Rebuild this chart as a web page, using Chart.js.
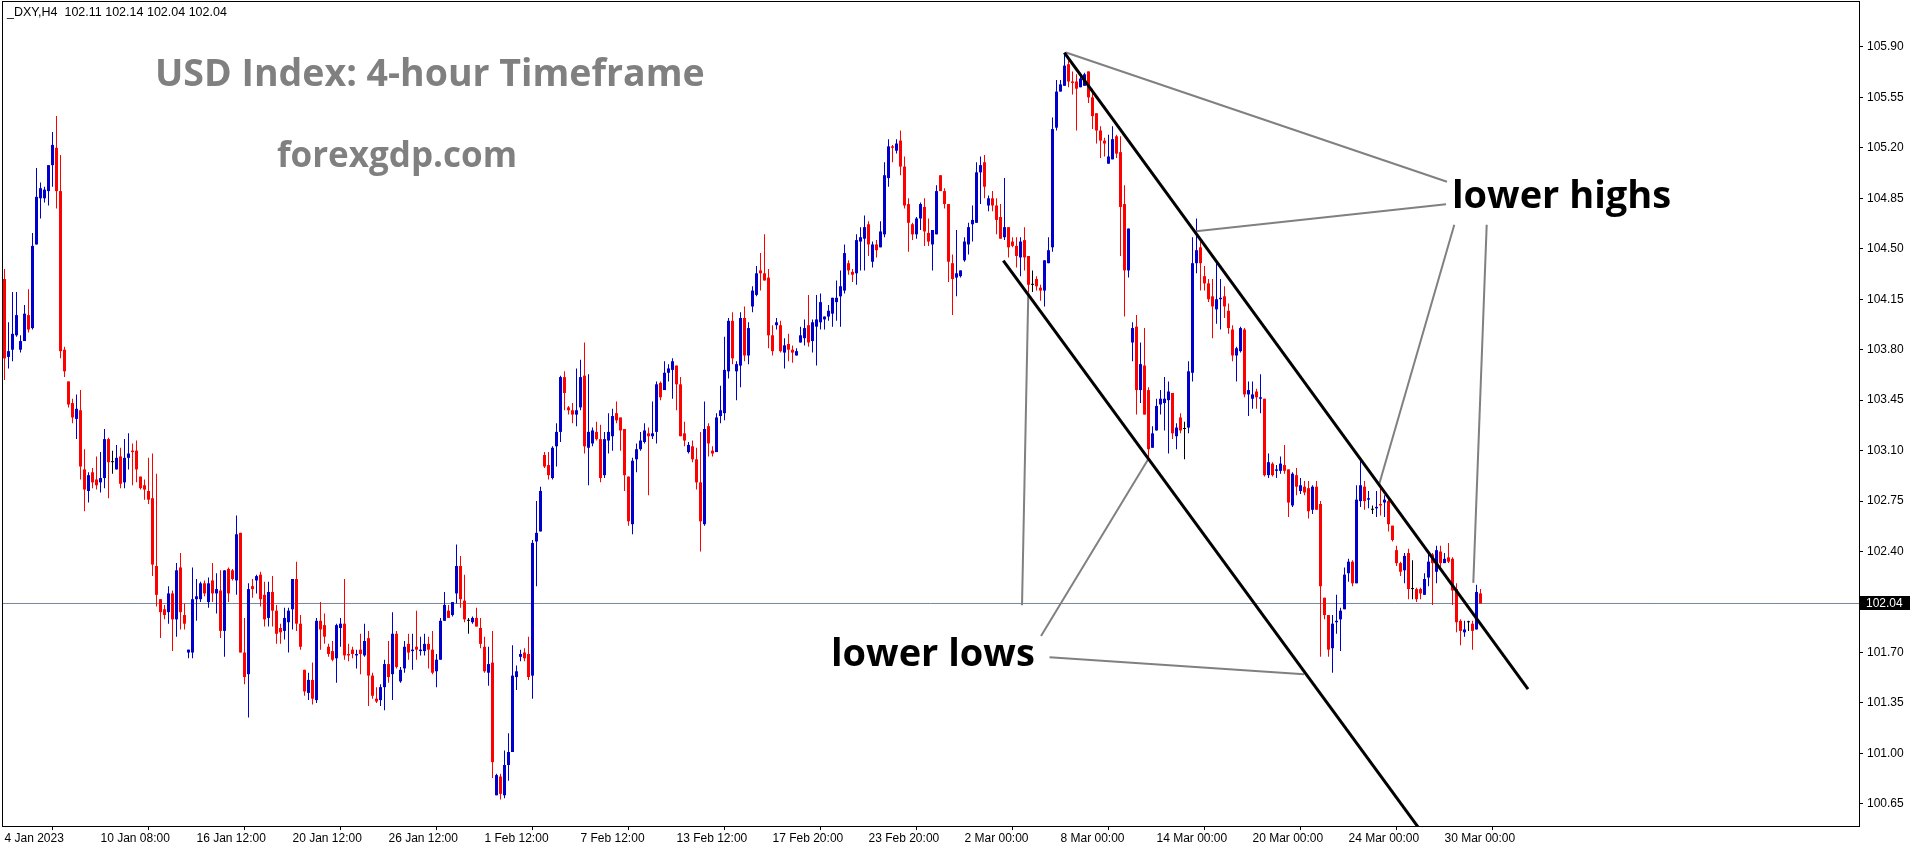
<!DOCTYPE html>
<html>
<head>
<meta charset="utf-8">
<script src="https://cdn.jsdelivr.net/npm/chart.js@4.4.1/dist/chart.umd.min.js"></script>
<style>
html,body{margin:0;padding:0;background:#fff;overflow:hidden;}
#wrap{position:relative;width:1916px;height:850px;}
#c{position:absolute;left:0;top:0;}
.ann{position:absolute;white-space:pre;line-height:1;font-family:'Open Sans',sans-serif;}
#hdr{position:absolute;left:7px;top:6px;font:12.5px 'Liberation Sans',sans-serif;line-height:1;white-space:pre;color:#000;}
</style>
</head>
<body>
<div id="wrap">
<canvas id="c" width="1916" height="850"></canvas>
<div id="hdr"></div>
<div class="ann" style="left:155px;top:53px;font-size:37.5px;color:#808080;font-weight:700">USD Index: 4-hour Timeframe</div>
<div class="ann" style="left:277px;top:136px;font-size:35px;color:#808080;font-weight:700">forexgdp.com</div>
<div class="ann" style="left:1452px;top:174px;font-size:38px;color:#000;font-weight:700">lower highs</div>
<div class="ann" style="left:831px;top:632px;font-size:38px;color:#000;font-weight:700">lower lows</div>
</div>
<script>
// ---- DATA ----
const symbolName = '_DXY,H4';
const xTickIndex = [0,24,48,72,96,120,144,168,192,216,240,264,288,312,336,360];
const xTickLabels = ['4 Jan 2023','10 Jan 08:00','16 Jan 12:00','20 Jan 12:00','26 Jan 12:00','1 Feb 12:00','7 Feb 12:00','13 Feb 12:00','17 Feb 20:00','23 Feb 20:00','2 Mar 00:00','8 Mar 00:00','14 Mar 00:00','20 Mar 00:00','24 Mar 00:00','30 Mar 00:00'];
const yTicks = [100.65,101.00,101.35,101.70,102.05,102.40,102.75,103.10,103.45,103.80,104.15,104.50,104.85,105.20,105.55,105.90];

const openP = [
104.29,103.75,103.80,103.90,103.80,103.86,104.04,103.95,104.53,104.85,
104.85,104.90,105.08,105.20,104.90,103.80,103.58,103.43,103.32,103.38,
102.97,102.82,102.95,102.90,102.88,102.91,103.18,103.02,102.97,103.06,
102.88,103.05,103.10,103.10,102.92,102.86,102.82,102.77,102.30,102.07,
102.00,101.98,102.11,101.93,102.29,101.96,101.70,101.70,102.07,102.07,
102.18,102.05,102.20,102.11,102.13,101.85,102.28,102.27,102.20,102.53,
101.70,101.55,102.16,102.20,102.24,102.10,101.94,102.12,101.99,101.87,
101.85,101.91,102.00,102.21,101.90,101.58,101.42,101.51,101.37,101.92,
101.89,101.74,101.71,101.66,101.87,101.90,101.69,101.72,101.68,101.72,
101.68,101.80,101.54,101.38,101.37,101.46,101.62,101.55,101.83,101.50,
101.59,101.76,101.71,101.74,101.71,101.71,101.76,101.72,101.57,101.65,
101.92,101.99,101.96,102.11,102.30,102.06,101.92,101.91,101.94,101.87,
101.74,101.56,101.63,100.71,100.84,100.71,100.92,101.01,101.53,101.67,
101.70,101.69,101.54,102.47,102.54,103.07,103.00,102.91,103.13,103.23,
103.61,103.40,103.38,103.35,103.40,103.62,103.12,103.15,103.23,103.18,
102.93,103.17,103.20,103.36,103.33,103.25,102.92,102.59,103.04,103.11,
103.16,103.22,103.20,103.23,103.57,103.52,103.64,103.66,103.69,103.56,
103.22,103.09,103.13,103.04,102.88,102.59,103.27,103.10,103.09,103.34,
103.36,103.65,104.00,103.65,103.69,104.02,103.76,104.10,104.18,104.35,
104.33,104.30,103.90,103.97,103.97,103.78,103.84,103.80,103.76,103.85,
103.88,103.97,103.86,103.96,103.99,104.01,104.03,104.05,104.13,104.17,
104.21,104.40,104.34,104.33,104.55,104.57,104.67,104.41,104.53,104.51,
104.60,104.99,105.21,105.18,105.25,105.07,104.81,104.67,104.60,104.71,
104.79,104.61,104.53,104.60,105.01,104.90,104.81,104.40,104.30,104.31,
104.42,104.53,104.67,104.68,105.03,105.10,104.80,104.85,104.80,104.72,
104.58,104.65,104.55,104.52,104.44,104.56,104.45,104.25,104.29,104.23,
104.21,104.40,104.51,105.34,105.59,105.63,105.78,105.66,105.66,105.62,
105.63,105.73,105.55,105.44,105.32,105.25,105.09,105.12,105.28,105.17,
104.81,104.35,103.85,103.96,103.52,103.69,103.52,103.12,103.24,103.42,
103.43,103.45,103.50,103.20,103.33,103.25,103.26,103.64,104.40,104.51,
104.31,104.26,104.17,104.08,104.15,104.17,104.07,103.94,103.76,103.79,
103.94,103.49,103.46,103.51,103.46,103.46,102.93,103.01,102.96,102.96,
103.00,102.97,102.72,102.93,102.82,102.85,102.84,102.69,102.85,102.73,
102.08,101.96,101.73,101.91,101.93,102.00,102.25,102.33,102.18,102.75,
102.85,102.76,102.69,102.70,102.73,102.74,102.75,102.58,102.41,102.32,
102.27,102.39,102.14,102.14,102.14,102.10,102.22,102.38,102.26,102.40,
102.32,102.36,102.35,102.14,101.92,101.84,101.91,101.90,101.86,102.11];

const highP = [
104.36,103.99,104.20,104.20,103.90,104.11,104.22,104.61,105.06,104.96,
104.93,105.08,105.31,105.42,105.15,103.82,103.58,103.46,103.49,103.52,
103.11,102.95,102.98,103.06,103.09,103.25,103.19,103.10,103.14,103.12,
103.18,103.22,103.15,103.17,102.92,102.90,103.05,103.08,102.94,102.07,
102.03,102.16,102.13,102.32,102.39,102.04,101.72,102.29,102.21,102.19,
102.20,102.22,102.32,102.25,102.27,102.27,102.29,102.28,102.65,102.53,
101.94,102.18,102.21,102.24,102.26,102.19,102.19,102.23,102.03,101.90,
102.01,102.01,102.21,102.33,101.96,101.58,101.56,101.63,101.94,102.05,
101.97,101.76,101.78,101.90,101.94,102.21,101.76,101.74,101.72,101.83,
101.90,101.85,101.56,101.46,101.48,101.65,101.78,101.98,101.85,101.60,
101.78,101.83,101.83,101.99,101.81,101.83,101.81,101.85,101.69,101.94,
102.12,102.03,102.05,102.45,102.37,102.24,101.94,101.95,102.01,101.94,
101.81,101.74,101.85,100.86,100.86,101.02,101.14,101.75,101.61,101.72,
101.73,101.81,102.48,102.75,102.85,103.09,103.09,103.13,103.29,103.62,
103.65,103.41,103.43,103.67,103.73,103.85,103.63,103.26,103.30,103.28,
103.23,103.36,103.39,103.44,103.33,103.25,102.92,103.05,103.15,103.23,
103.29,103.26,103.44,103.58,103.58,103.72,103.70,103.74,103.69,103.61,
103.30,103.16,103.17,103.12,103.23,103.44,103.29,103.13,103.36,103.55,
103.89,104.02,104.06,103.72,104.06,104.10,103.99,104.24,104.38,104.47,
104.60,104.36,103.97,104.02,104.00,103.88,103.91,103.83,103.81,103.96,
104.01,104.18,104.01,104.18,104.19,104.03,104.11,104.16,104.28,104.35,
104.53,104.42,104.36,104.60,104.65,104.73,104.69,104.55,104.56,104.69,
105.10,105.26,105.22,105.26,105.32,105.14,104.85,104.68,104.72,104.82,
104.85,104.71,104.63,104.94,105.01,104.92,104.81,104.46,104.63,104.35,
104.58,104.68,104.80,105.10,105.14,105.15,104.87,104.90,104.85,104.81,
104.99,104.65,104.58,104.58,104.58,104.65,104.45,104.35,104.31,104.25,
104.42,104.58,105.41,105.67,105.67,105.85,105.81,105.73,105.71,105.72,
105.72,105.73,105.61,105.44,105.35,105.27,105.29,105.35,105.29,105.28,
104.94,104.64,103.99,104.04,103.85,103.95,103.54,103.27,103.46,103.52,
103.61,103.58,103.50,103.29,103.36,103.30,103.72,104.58,104.71,104.55,
104.38,104.29,104.29,104.40,104.29,104.24,104.12,103.97,103.82,103.96,
103.95,103.58,103.58,103.53,103.63,103.46,103.08,103.02,103.00,103.06,
103.14,102.97,102.95,102.98,102.91,102.89,102.89,102.86,102.89,102.75,
102.08,101.96,101.96,102.10,102.01,102.29,102.35,102.34,102.86,103.04,
102.89,102.82,102.72,102.82,102.85,102.79,102.77,102.58,102.44,102.33,
102.39,102.42,102.34,102.15,102.15,102.25,102.39,102.39,102.44,102.44,
102.39,102.46,102.36,102.18,101.93,101.92,101.92,101.92,102.17,102.14];

const lowP = [
103.59,103.67,103.72,103.89,103.78,103.86,103.92,103.94,104.53,104.71,
104.82,104.80,104.93,104.78,103.74,103.61,103.40,103.29,103.18,102.90,
102.68,102.74,102.84,102.83,102.81,102.84,102.77,102.94,102.97,102.84,
102.84,102.97,102.86,102.88,102.83,102.76,102.73,102.23,102.02,101.80,
101.93,101.90,101.71,101.81,101.86,101.86,101.66,101.66,101.92,102.05,
102.09,102.01,102.05,101.97,101.80,101.67,102.05,102.20,102.10,101.70,
101.48,101.25,102.08,102.11,102.02,101.88,101.88,101.88,101.76,101.76,
101.79,101.70,101.86,101.85,101.72,101.40,101.37,101.34,101.35,101.72,
101.76,101.67,101.64,101.49,101.74,101.65,101.64,101.66,101.59,101.55,
101.67,101.33,101.38,101.35,101.33,101.30,101.49,101.37,101.59,101.49,
101.56,101.65,101.58,101.65,101.68,101.68,101.59,101.55,101.46,101.65,
101.92,101.94,101.95,102.04,102.01,101.91,101.83,101.90,101.88,101.73,
101.56,101.47,100.83,100.71,100.68,100.69,100.81,101.01,101.44,101.64,
101.64,101.51,101.38,102.16,102.54,102.98,102.90,102.90,102.99,103.16,
103.38,103.35,103.29,103.27,103.38,103.08,102.86,103.13,103.17,102.88,
102.91,103.08,103.10,103.29,103.10,102.82,102.58,102.52,102.95,103.10,
103.15,102.79,103.18,103.15,103.45,103.52,103.58,103.46,103.38,103.20,
103.13,103.08,103.02,102.83,102.40,102.58,103.06,103.06,103.09,103.29,
103.31,103.60,103.70,103.45,103.54,103.72,103.70,104.06,104.17,104.21,
104.28,103.81,103.76,103.94,103.78,103.67,103.72,103.71,103.76,103.85,
103.83,103.82,103.78,103.69,103.94,103.94,104.00,103.96,104.00,103.96,
104.19,104.32,104.27,104.25,104.35,104.35,104.45,104.37,104.44,104.51,
104.58,104.93,105.10,105.16,105.01,104.78,104.48,104.56,104.57,104.63,
104.52,104.52,104.35,104.60,104.90,104.78,104.27,104.04,104.17,104.30,
104.41,104.46,104.55,104.68,104.81,104.85,104.76,104.76,104.60,104.57,
104.56,104.44,104.51,104.37,104.31,104.35,104.20,104.20,104.21,104.14,
104.10,104.40,104.48,105.32,105.59,105.63,105.62,105.57,105.32,105.62,
105.63,105.51,105.33,105.23,105.13,105.14,105.09,105.12,105.13,104.45,
104.03,104.30,103.72,103.35,103.43,103.35,103.04,103.12,103.24,103.35,
103.24,103.08,103.18,103.11,103.22,103.04,103.22,103.58,104.33,104.21,
104.21,104.13,103.88,103.98,103.94,104.02,103.91,103.72,103.58,103.78,
103.47,103.34,103.39,103.39,103.36,102.92,102.91,102.92,102.91,102.94,
102.94,102.64,102.71,102.79,102.80,102.79,102.63,102.66,102.69,101.67,
101.93,101.67,101.56,101.83,101.71,102.00,102.19,102.16,102.18,102.71,
102.69,102.70,102.66,102.64,102.65,102.64,102.54,102.47,102.30,102.23,
102.18,102.07,102.07,102.05,102.07,102.10,102.16,102.03,102.18,102.29,
102.32,102.32,102.03,101.84,101.75,101.81,101.85,101.72,101.86,102.04];

const closeP = [
103.74,103.79,103.91,104.04,103.86,104.05,103.94,104.52,104.86,104.92,
104.91,105.08,105.22,104.90,103.79,103.65,103.42,103.33,103.39,102.99,
102.83,102.93,102.88,102.86,102.91,103.18,103.02,103.02,103.05,102.87,
103.05,103.08,103.09,102.97,102.84,102.83,102.76,102.31,102.10,101.98,
101.96,102.11,101.93,102.27,101.98,101.90,101.72,102.07,102.09,102.18,
102.11,102.18,102.11,102.14,101.85,102.27,102.11,102.21,102.52,101.70,
101.53,102.14,102.14,102.23,102.07,101.93,102.12,101.99,101.83,101.84,
101.94,101.99,102.21,101.90,101.74,101.43,101.51,101.38,101.92,101.86,
101.81,101.69,101.65,101.89,101.90,101.68,101.68,101.69,101.69,101.69,
101.78,101.54,101.40,101.36,101.46,101.62,101.53,101.83,101.60,101.58,
101.74,101.70,101.72,101.72,101.72,101.76,101.72,101.56,101.65,101.92,
102.03,101.94,102.05,102.30,102.07,101.93,101.92,101.94,101.88,101.76,
101.57,101.62,100.94,100.85,100.72,100.92,101.01,101.54,101.57,101.69,
101.66,101.53,102.46,102.53,102.82,102.99,102.93,103.12,103.23,103.61,
103.50,103.38,103.35,103.38,103.61,103.13,103.23,103.24,103.18,102.91,
103.18,103.23,103.34,103.31,103.24,102.93,102.61,103.03,103.11,103.17,
103.24,103.20,103.22,103.56,103.47,103.64,103.67,103.72,103.56,103.20,
103.17,103.14,103.04,102.88,102.61,103.25,103.15,103.08,103.33,103.38,
103.66,104.00,103.74,103.70,104.02,103.76,103.95,104.21,104.33,104.33,
104.28,103.90,103.79,103.99,103.79,103.83,103.80,103.78,103.79,103.90,
103.95,103.85,103.99,104.01,104.13,104.03,104.07,104.16,104.16,104.24,
104.47,104.35,104.32,104.56,104.58,104.65,104.53,104.53,104.49,104.62,
105.01,105.21,105.20,105.23,105.07,104.80,104.68,104.60,104.71,104.81,
104.62,104.55,104.63,104.90,104.90,104.81,104.41,104.29,104.33,104.35,
104.55,104.65,104.70,105.03,105.08,104.93,104.85,104.80,104.70,104.57,
104.65,104.51,104.52,104.45,104.55,104.44,104.25,104.25,104.24,104.21,
104.42,104.49,105.33,105.59,105.64,105.77,105.66,105.65,105.61,105.68,
105.71,105.55,105.42,105.32,105.25,105.23,105.14,105.26,105.16,104.79,
104.35,104.64,103.95,103.52,103.70,103.35,103.11,103.22,103.41,103.46,
103.46,103.51,103.22,103.26,103.24,103.25,103.65,104.40,104.49,104.40,
104.26,104.15,104.10,104.15,104.16,104.10,103.95,103.76,103.81,103.95,
103.49,103.52,103.49,103.47,103.47,102.93,103.02,102.93,102.97,103.01,
102.96,102.74,102.94,102.85,102.86,102.81,102.68,102.85,102.69,102.16,
101.96,101.72,101.90,101.92,101.99,102.24,102.33,102.18,102.76,102.86,
102.75,102.77,102.69,102.71,102.72,102.76,102.59,102.48,102.32,102.26,
102.37,102.14,102.14,102.07,102.11,102.21,102.33,102.32,102.41,102.32,
102.35,102.33,102.13,101.91,101.85,101.86,101.91,101.85,102.12,102.04];

// Drawn objects, in (candle index, price) coordinates
const upperChannel = [{x:264.95,y:105.86},{x:380.88,y:101.447}];
const lowerChannel = [{x:249.70,y:104.417},{x:354.10,y:100.463}];
const highPointer1 = [{x:265.38,y:105.861},{x:360.63,y:104.965}];
const highPointer2 = [{x:297.88,y:104.622},{x:360.38,y:104.809}];
const highPointer3 = [{x:343.70,y:102.871},{x:362.45,y:104.667}];
const highPointer4 = [{x:367.20,y:102.183},{x:370.55,y:104.667}];
const lowPointer1 = [{x:254.38,y:102.028},{x:255.95,y:104.198}];
const lowPointer2 = [{x:259.13,y:101.814},{x:285.88,y:103.039}];
const lowPointer3 = [{x:261.25,y:101.668},{x:324.88,y:101.550}];

// ---- CHART ----
const n = closeP.length;
const last = n - 1;
const bidLevel = closeP[last];
document.getElementById('hdr').textContent =
  symbolName + '  ' + openP[last].toFixed(2) + ' ' + highP[last].toFixed(2) + ' ' + lowP[last].toFixed(2) + ' ' + closeP[last].toFixed(2);

const UP = '#0000CD', DOWN = '#FF0000', FLAT = '#000000';
const idx = closeP.map((_, i) => i);
const colors = idx.map(i => closeP[i] > openP[i] ? UP : (closeP[i] < openP[i] ? DOWN : FLAT));

const X_MIN = -0.625, X_MAX = 463.625;

const lineDs = (data, color, width) => ({
  type: 'line', data, borderColor: color, borderWidth: width, pointRadius: 0,
  fill: false, tension: 0, order: 1
});

const framePlugin = {
  id: 'frame',
  afterDraw(chart) {
    const {ctx, chartArea: a} = chart;
    ctx.save();
    ctx.strokeStyle = '#000';
    ctx.lineWidth = 1;
    ctx.strokeRect(a.left + 0.5, a.top + 0.5, a.right - a.left, a.bottom - a.top);
    ctx.restore();
  }
};
const bidLabelPlugin = {
  id: 'bidLabel',
  afterDraw(chart) {
    const {ctx, chartArea: a} = chart;
    const y = Math.round(chart.scales.y.getPixelForValue(bidLevel));
    ctx.save();
    ctx.fillStyle = '#000';
    ctx.fillRect(a.right + 1, y - 7, 50, 14);
    ctx.fillStyle = '#fff';
    ctx.font = "12px 'Liberation Sans'";
    ctx.textBaseline = 'middle';
    ctx.textAlign = 'left';
    ctx.fillText(bidLevel.toFixed(2), a.right + 7, y + 0.5);
    ctx.restore();
  }
};

Chart.defaults.font.family = "'Liberation Sans', sans-serif";
Chart.defaults.font.size = 12;
Chart.defaults.color = '#000';

new Chart(document.getElementById('c'), {
  data: {
    datasets: [
      { type: 'line', data: [{x: X_MIN, y: bidLevel}, {x: X_MAX, y: bidLevel}],
        borderColor: '#778899', borderWidth: 1, pointRadius: 0, order: 10 },
      { type: 'bar', data: idx.map(i => ({x: i, y: [lowP[i], highP[i]]})),
        backgroundColor: colors, grouped: false, barPercentage: 0.25, categoryPercentage: 1,
        borderWidth: 0, order: 6 },
      { type: 'bar', data: idx.map(i => ({x: i, y: [openP[i], closeP[i]]})),
        backgroundColor: colors, grouped: false, barPercentage: 0.75, categoryPercentage: 1,
        minBarLength: 1, borderWidth: 0, order: 5 },
      lineDs(upperChannel, '#000', 3),
      lineDs(lowerChannel, '#000', 3),
      lineDs(highPointer1, '#808080', 2),
      lineDs(highPointer2, '#808080', 2),
      lineDs(highPointer3, '#808080', 2),
      lineDs(highPointer4, '#808080', 2),
      lineDs(lowPointer1, '#808080', 2),
      lineDs(lowPointer2, '#808080', 2),
      lineDs(lowPointer3, '#808080', 2)
    ]
  },
  options: {
    responsive: false,
    animation: false,
    events: [],
    layout: { padding: { left: 2, top: 1, right: 0, bottom: 0 } },
    plugins: { legend: { display: false }, tooltip: { enabled: false }, title: { display: false } },
    scales: {
      x: {
        type: 'linear', min: X_MIN, max: X_MAX, offset: false,
        afterBuildTicks: s => { s.ticks = xTickIndex.map(v => ({value: v})); },
        afterFit: s => { s.height = 24; s.paddingLeft = 0; s.paddingRight = 0; },
        grid: { drawOnChartArea: false, drawTicks: true, tickLength: 4, color: '#000' },
        border: { display: true, color: '#000', width: 1 },
        ticks: {
          autoSkip: false, maxRotation: 0, minRotation: 0, align: 'start', padding: 1,
          color: '#000', font: { size: 12 },
          callback: v => { const i = xTickIndex.indexOf(v); return i >= 0 ? xTickLabels[i] : ''; }
        }
      },
      y: {
        type: 'linear', position: 'right', min: 100.497, max: 106.2182,
        afterBuildTicks: s => { s.ticks = yTicks.map(v => ({value: v})); },
        afterFit: s => { s.width = 57; s.paddingTop = 0; s.paddingBottom = 0; },
        grid: { drawOnChartArea: false, drawTicks: true, tickLength: 4, color: '#000' },
        border: { display: true, color: '#000', width: 1 },
        ticks: { padding: 4, color: '#000', font: { size: 12 }, callback: v => Number(v).toFixed(2) }
      }
    }
  },
  plugins: [framePlugin, bidLabelPlugin]
});
</script>
</body>
</html>
